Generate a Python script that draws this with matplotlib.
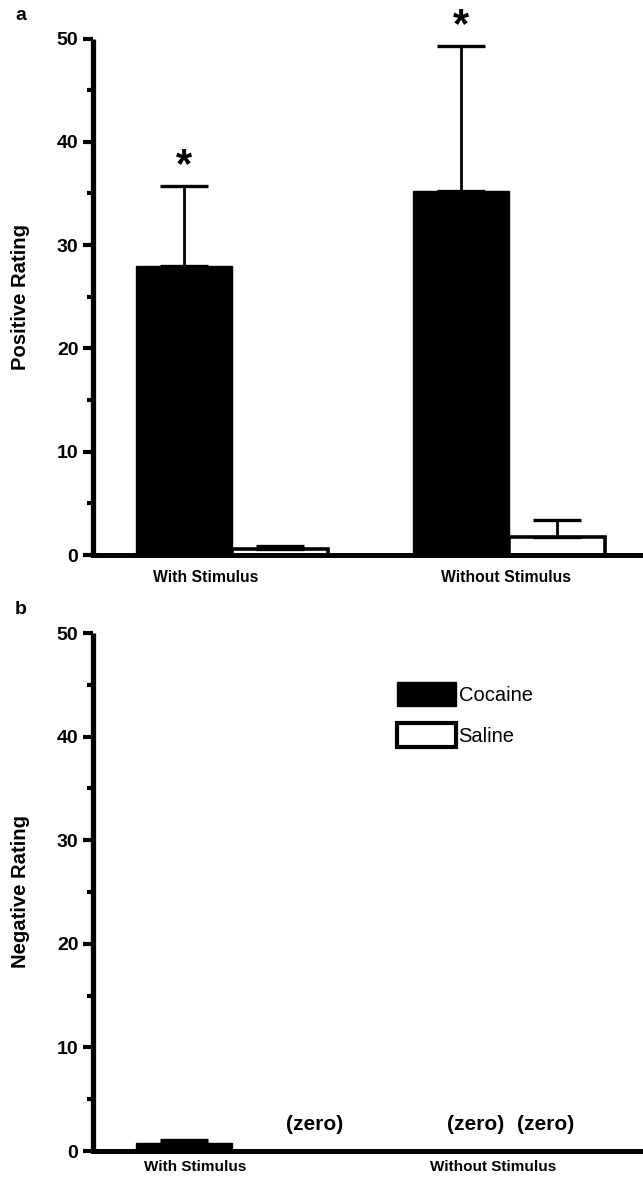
import numpy as np
import matplotlib
matplotlib.use("Agg")
import matplotlib.pyplot as plt
from matplotlib.patches import Patch

# ---------------- data ----------------
groups = ["With Stimulus", "Without Stimulus"]
series = ["Cocaine", "Saline"]

pos_cocaine = [28.0, 35.2]
pos_cocaine_err = [7.7, 14.1]
pos_saline = [0.6, 1.75]
pos_saline_err = [0.25, 1.65]

neg_cocaine = [0.8, 0.0]
neg_cocaine_err = [0.3, 0.0]
neg_saline = [0.0, 0.0]
neg_saline_err = [0.0, 0.0]

significant_pos = [True, True]
zero_label = "(zero)"

yticks = [0, 10, 20, 30, 40, 50]

# ---------------- layout ----------------
W, H, DPI = 643, 1177, 100
fig = plt.figure(figsize=(W / DPI, H / DPI), dpi=DPI)
plt.rcParams['font.family'] = ['Liberation Sans', 'DejaVu Sans']

group_centers = np.array([0.0, 2.885])
bw = 1.0
x_coc = group_centers - bw / 2
x_sal = group_centers + bw / 2
xlim = (-1.448, 4.281)

def px_to_fig(top_px, bottom_px, left_px=93, right_px=643):
    return [left_px / W, 1 - bottom_px / H, (right_px - left_px) / W, (bottom_px - top_px) / H]

ax_a = fig.add_axes(px_to_fig(38.5, 555))
ax_b = fig.add_axes(px_to_fig(633, 1151))

def style_axes(ax, ylabel, label_pos, xpad, xsize):
    ax.set_ylim(0, 50)
    ax.set_xlim(*xlim)
    for s in ["top", "right"]:
        ax.spines[s].set_visible(False)
    ax.spines["left"].set_linewidth(3.8)
    ax.spines["bottom"].set_linewidth(3.6)
    ax.spines["left"].set_capstyle("butt")
    ax.set_yticks(yticks)
    ax.set_yticks(np.arange(5, 50, 10), minor=True)
    ax.tick_params(axis="y", which="major", length=7.5, width=3, pad=3,
                   labelsize=14)
    ax.tick_params(axis="y", which="minor", length=4.5, width=3)
    for lab in ax.get_yticklabels():
        lab.set_fontweight("bold")
    ax.set_xticks(label_pos)
    ax.set_xticklabels(groups, fontsize=xsize, fontweight="bold")
    ax.tick_params(axis="x", length=0, pad=xpad)
    ax.set_ylabel(ylabel, fontsize=14.6, fontweight="bold", labelpad=19)

err_kw = dict(ecolor="black", elinewidth=2.0, capsize=17, capthick=2.4)

def draw(ax, coc, coc_err, sal, sal_err):
    ax.bar(x_coc, coc, bw, color="black", edgecolor="black", linewidth=1,
           yerr=np.vstack([np.zeros(len(coc)), coc_err]), error_kw=err_kw,
           zorder=2, label=series[0])
    ax.bar(x_sal, sal, bw, color="white", edgecolor="black", linewidth=2.6,
           yerr=np.vstack([np.zeros(len(sal)), sal_err]), error_kw=err_kw,
           zorder=2, label=series[1])

# panel a
draw(ax_a, pos_cocaine, pos_cocaine_err, pos_saline, pos_saline_err)
style_axes(ax_a, "Positive Rating", [-0.27, 2.85], 11, 11.3)
for i, sig in enumerate(significant_pos):
    if sig:
        ax_a.annotate("*", xy=(x_coc[i], pos_cocaine[i] + pos_cocaine_err[i]),
                      xytext=(0, 0), textcoords="offset points",
                      ha="center", va="bottom", fontsize=30, fontweight="bold")

# panel b
mask_c = [v > 0 for v in neg_cocaine]
ax_b.bar(x_coc[mask_c], np.array(neg_cocaine)[mask_c], bw, color="black",
         edgecolor="black", linewidth=1,
         yerr=np.vstack([np.zeros(sum(mask_c)), np.array(neg_cocaine_err)[mask_c]]),
         error_kw=err_kw, zorder=2)
style_axes(ax_b, "Negative Rating", [-0.385, 2.72], 6.5, 11.0)
zero_x = [0.86, 2.54, 3.27]
for zx in zero_x:
    ax_b.text(zx, 2.6, zero_label, ha="center", va="center", fontsize=15,
              fontweight="bold")

handles = [Patch(facecolor="black", edgecolor="black", linewidth=1),
           Patch(facecolor="white", edgecolor="black", linewidth=3)]
ax_b.legend(handles, series, loc="upper left", bbox_to_anchor=(0.553, 0.905),
            frameon=False, fontsize=14.5, handlelength=2.9, handleheight=1.45,
            labelspacing=0.85, handletextpad=0.15, borderpad=0, borderaxespad=0)

fig.text(15 / W, 1 - 15 / H, "a", fontsize=14, fontweight="bold", va="center", ha="left")
fig.text(15 / W, 1 - 610 / H, "b", fontsize=14, fontweight="bold", va="center", ha="left")

fig.savefig("out.png", dpi=DPI)
